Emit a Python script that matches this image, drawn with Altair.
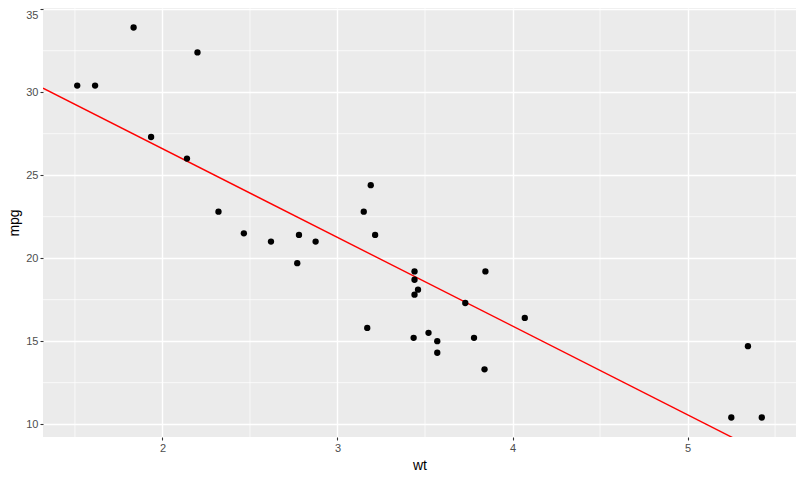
import altair as alt
import pandas as pd

wt = [2.620, 2.875, 2.320, 3.215, 3.440, 3.460, 3.570, 3.190, 3.150, 3.440, 3.440,
      4.070, 3.730, 3.780, 5.250, 5.424, 5.345, 2.200, 1.615, 1.835, 2.465, 3.520,
      3.435, 3.840, 3.845, 1.935, 2.140, 1.513, 3.170, 2.770, 3.570, 2.780]
mpg = [21.0, 21.0, 22.8, 21.4, 18.7, 18.1, 14.3, 24.4, 22.8, 19.2, 17.8,
       16.4, 17.3, 15.2, 10.4, 10.4, 14.7, 32.4, 30.4, 33.9, 21.5, 15.5,
       15.2, 13.3, 19.2, 27.3, 26.0, 30.4, 15.8, 19.7, 15.0, 21.4]
intercept = 37.2851
slope = -5.3445

x_ticks = [2, 3, 4, 5]
y_ticks = [10, 15, 20, 25, 30, 35]
x_minor = [1.5, 2.5, 3.5, 4.5, 5.5]
y_minor = [12.5, 17.5, 22.5, 27.5, 32.5]

xr = max(wt) - min(wt)
yr = max(mpg) - min(mpg)
x_dom = [min(wt) - 0.05 * xr, max(wt) + 0.05 * xr]
y_dom = [min(mpg) - 0.05 * yr, max(mpg) + 0.05 * yr]

pts = pd.DataFrame({"wt": wt, "mpg": mpg})
line_df = pd.DataFrame({"wt": x_dom, "mpg": [intercept + slope * v for v in x_dom]})

xs = alt.Scale(domain=x_dom, nice=False, zero=False)
ys = alt.Scale(domain=y_dom, nice=False, zero=False)

font = "Liberation Sans"
xax = alt.Axis(values=x_ticks, format="d", grid=True, gridColor="white", gridWidth=1.4,
               domain=False, tickColor="#333333", tickSize=3, tickWidth=1.1,
               labelColor="#4D4D4D", labelFontSize=11, labelFont=font, labelPadding=2,
               title="wt", titleFont=font, titleFontSize=14, titleFontWeight="normal",
               titleColor="black", titlePadding=5)
yax = alt.Axis(values=y_ticks, format="d", grid=True, gridColor="white", gridWidth=1.4,
               domain=False, tickColor="#333333", tickSize=3, tickWidth=1.1,
               labelColor="#4D4D4D", labelFontSize=11, labelFont=font, labelPadding=2,
               labelFlush=3,
               title="mpg", titleFont=font, titleFontSize=14, titleFontWeight="normal",
               titleColor="black", titlePadding=4)

base_axes = alt.Chart(pts).mark_point(opacity=0).encode(
    x=alt.X("wt:Q", scale=xs, axis=xax),
    y=alt.Y("mpg:Q", scale=ys, axis=yax))

xminor = alt.Chart(pd.DataFrame({"wt": x_minor})).mark_rule(color="white", strokeWidth=0.7).encode(
    x=alt.X("wt:Q", scale=xs))
yminor = alt.Chart(pd.DataFrame({"mpg": y_minor})).mark_rule(color="white", strokeWidth=0.7).encode(
    y=alt.Y("mpg:Q", scale=ys))

points = alt.Chart(pts).mark_circle(color="black", size=40, opacity=1).encode(
    x=alt.X("wt:Q", scale=xs), y=alt.Y("mpg:Q", scale=ys))

fit = alt.Chart(line_df).mark_line(color="red", strokeWidth=1.4, clip=True).encode(
    x=alt.X("wt:Q", scale=xs), y=alt.Y("mpg:Q", scale=ys))

chart = alt.layer(base_axes, xminor, yminor, fit, points).properties(
    width=753, height=429,
    padding={"left": 35, "top": 0, "right": 0, "bottom": 34},
    autosize=alt.AutoSizeParams(type="none"),
).configure_view(fill="#EBEBEB", stroke=None)

chart.save("out.html", embed_options={"renderer": "svg", "actions": False})
